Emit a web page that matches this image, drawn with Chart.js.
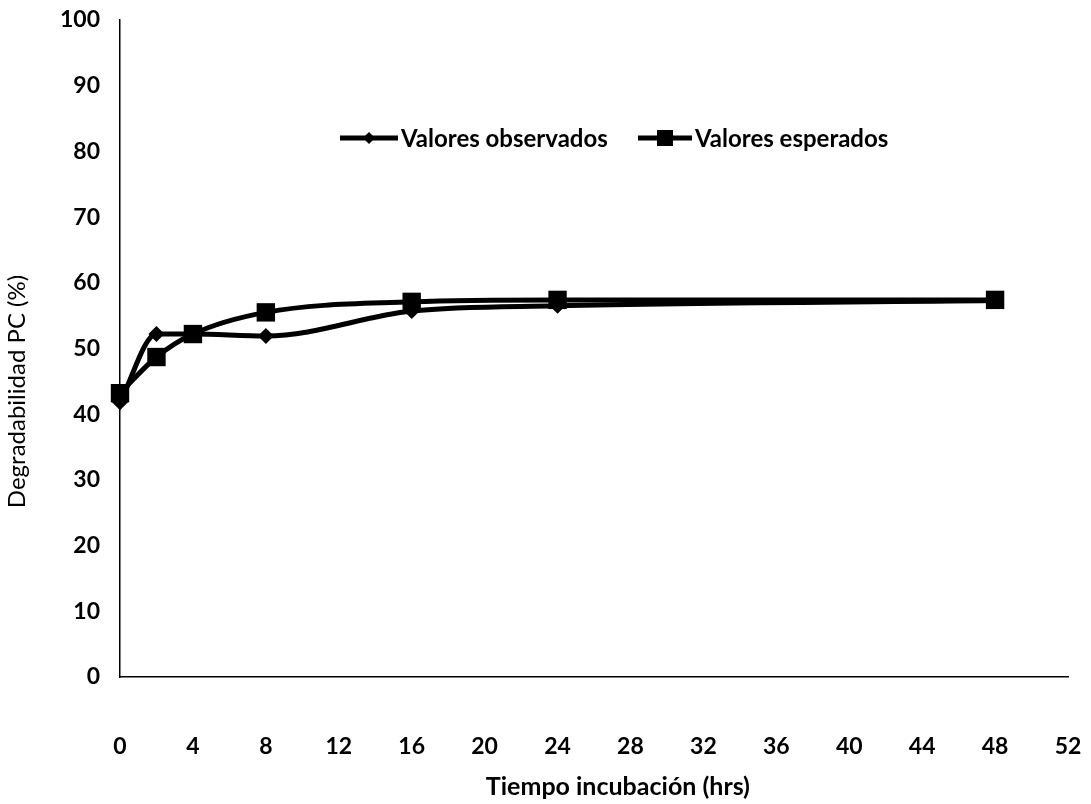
<!DOCTYPE html>
<html>
<head>
<meta charset="utf-8">
<script src="https://cdn.jsdelivr.net/npm/chart.js@4/dist/chart.umd.min.js"></script>
<style>
  body { margin: 0; background: #fff; }
</style>
</head>
<body>
<canvas id="grafico" width="1091" height="804"></canvas>
<script>
// datos
var horas = [0, 2, 4, 8, 16, 24, 48];
var observados = [41.8, 52.2, 52.2, 51.9, 55.7, 56.5, 57.3];
var esperados = [43.2, 48.7, 52.2, 55.5, 57.1, 57.4, 57.4];
var series = ['Valores observados', 'Valores esperados'];

function puntos(vals) {
  return horas.map(function (h, i) { return { x: h, y: vals[i] }; });
}

Chart.defaults.font.family = 'Lato, "Open Sans", sans-serif';
Chart.defaults.color = '#000';

// leyenda dibujada dentro del area, como en Excel
var leyenda = {
  id: 'leyenda',
  afterDraw: function (chart) {
    var ctx = chart.ctx;
    var y = 138;
    var items = [
      { x1: 340, x2: 398, tipo: 'rombo', texto: series[0] },
      { x1: 638, x2: 692, tipo: 'cuadro', texto: series[1] }
    ];
    ctx.save();
    ctx.font = 'bold 24px Lato, "Open Sans", sans-serif';
    ctx.textBaseline = 'middle';
    ctx.fillStyle = '#000';
    ctx.strokeStyle = '#000';
    items.forEach(function (it) {
      ctx.lineWidth = 5;
      ctx.beginPath();
      ctx.moveTo(it.x1, y);
      ctx.lineTo(it.x2, y);
      ctx.stroke();
      var cx = (it.x1 + it.x2) / 2;
      ctx.beginPath();
      if (it.tipo === 'rombo') {
        ctx.moveTo(cx, y - 6);
        ctx.lineTo(cx + 6, y);
        ctx.lineTo(cx, y + 6);
        ctx.lineTo(cx - 6, y);
        ctx.closePath();
      } else {
        ctx.rect(cx - 8, y - 8, 16, 16);
      }
      ctx.fill();
      ctx.fillText(it.texto, it.x2 + 3, y + 1);
    });
    ctx.restore();
  }
};

var ctx = document.getElementById('grafico').getContext('2d');
var grafico = new Chart(ctx, {
  type: 'line',
  data: {
    datasets: [{
      label: series[0],
      data: puntos(observados),
      borderColor: '#000',
      backgroundColor: '#000',
      borderWidth: 5,
      cubicInterpolationMode: 'monotone',
      pointStyle: 'rectRot',
      pointRadius: 8,
      pointBorderWidth: 0,
      clip: false
    }, {
      label: series[1],
      data: puntos(esperados),
      borderColor: '#000',
      backgroundColor: '#000',
      borderWidth: 5,
      cubicInterpolationMode: 'monotone',
      pointStyle: 'rect',
      pointRadius: 13,
      pointBorderWidth: 0,
      clip: false
    }]
  },
  options: {
    responsive: false,
    animation: false,
    layout: { padding: { top: 20, right: 23, left: 0, bottom: 0 } },
    plugins: {
      legend: { display: false },
      tooltip: { enabled: false }
    },
    scales: {
      x: {
        type: 'linear',
        min: 0,
        max: 52,
        grid: { display: false, drawTicks: false },
        border: { display: true, color: '#000', width: 1.5 },
        ticks: { stepSize: 4, padding: 56, font: { size: 23, weight: 'bold' }, maxRotation: 0 },
        title: {
          display: true,
          text: '\u00a0'.repeat(8) + 'Tiempo incubación (hrs)',
          font: { size: 25, weight: 'bold' },
          padding: { top: 0, bottom: 2 }
        },
        afterFit: function (s) { s.height = 127; s.paddingLeft = 0; s.paddingRight = 0; }
      },
      y: {
        min: 0,
        max: 100,
        grid: { display: false, drawTicks: false },
        border: { display: true, color: '#000', width: 1.5 },
        ticks: { stepSize: 10, padding: 20, font: { size: 23, weight: 'bold' } },
        title: {
          display: true,
          text: 'Degradabilidad PC (%)' + '\u00a0'.repeat(14),
          font: { size: 24 },
          padding: { top: 3, bottom: 0 }
        },
        afterFit: function (s) { s.width = 120; s.paddingTop = 0; s.paddingBottom = 0; }
      }
    }
  },
  plugins: [leyenda]
});
</script>
</body>
</html>
